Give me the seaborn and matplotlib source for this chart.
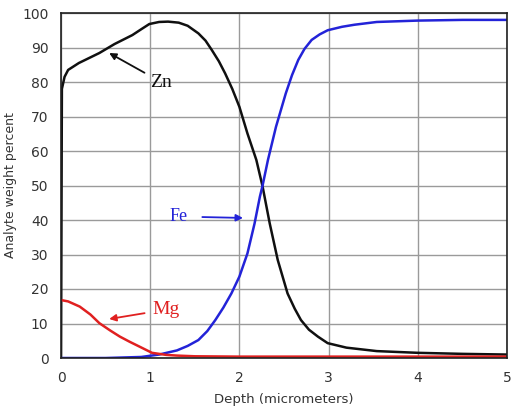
import numpy as np
import pandas as pd
import matplotlib
matplotlib.use("Agg")
import matplotlib.pyplot as plt
import seaborn as sns

# Depth profile readings (micrometers, weight percent)
zn_depth = [0, 0.01, 0.04, 0.08, 0.2, 0.43, 0.6, 0.8, 0.9, 0.99, 1.1, 1.2, 1.32, 1.42,
            1.54, 1.62, 1.69, 1.77, 1.84, 1.92, 2.0, 2.09, 2.19, 2.26, 2.34, 2.43,
            2.54, 2.62, 2.69, 2.78, 2.88, 2.99, 3.2, 3.54, 4.0, 4.5, 5.0]
zn_pct = [0, 78, 81.5, 83.5, 85.5, 88.4, 91, 93.6, 95.3, 96.8, 97.4, 97.5, 97.2, 96.3,
          94.1, 92, 89.3, 86, 82.5, 78, 72.8, 65.1, 57.4, 49.7, 39, 28.4,
          18.7, 14.3, 11, 8.2, 6.2, 4.3, 3.0, 2.0, 1.5, 1.2, 1.0]

fe_depth = [0, 0.5, 0.9, 1.1, 1.3, 1.42, 1.54, 1.64, 1.73, 1.82, 1.91, 2.0, 2.09, 2.17,
            2.23, 2.26, 2.32, 2.41, 2.52, 2.59, 2.66, 2.73, 2.81, 2.9, 2.99, 3.15,
            3.29, 3.54, 4.0, 4.5, 5.0]
fe_pct = [0, 0, 0.3, 1.0, 2.2, 3.5, 5.2, 7.8, 11, 14.6, 18.7, 23.6, 30.3, 39,
          46.8, 50, 57.4, 67, 76.7, 82, 86.4, 89.6, 92.2, 93.8, 95, 96,
          96.6, 97.4, 97.8, 98, 98]

mg_depth = [0, 0.08, 0.21, 0.33, 0.43, 0.55, 0.66, 0.77, 0.88, 1.02, 1.18, 1.3, 1.5, 2, 3, 4, 5]
mg_pct = [16.8, 16.4, 14.9, 12.6, 10.1, 8.0, 6.2, 4.7, 3.3, 1.5, 0.9, 0.7, 0.5, 0.4, 0.4, 0.4, 0.4]

df = pd.concat([
    pd.DataFrame({"depth": zn_depth, "pct": zn_pct, "element": "Zn"}),
    pd.DataFrame({"depth": fe_depth, "pct": fe_pct, "element": "Fe"}),
    pd.DataFrame({"depth": mg_depth, "pct": mg_pct, "element": "Mg"}),
])

colors = {"Zn": "#101010", "Fe": "#2323d8", "Mg": "#e02020"}

sns.set_style("white")
fig = plt.figure(figsize=(5.13, 4.12), dpi=100)
ax = fig.add_axes([61 / 513, 54 / 412, 446 / 513, 345 / 412])

sns.lineplot(data=df, x="depth", y="pct", hue="element", palette=colors,
             linewidth=1.8, legend=False, sort=False, estimator=None, ax=ax)

ax.set_xlim(0, 5)
ax.set_ylim(0, 100)
ax.set_xticks(range(0, 6))
ax.set_yticks(range(0, 101, 10))
ax.grid(True, color="#9a9a9a", linewidth=1.0)
ax.set_axisbelow(True)
for s in ax.spines.values():
    s.set_color("#202020")
    s.set_linewidth(1.2)
ax.tick_params(length=0, labelsize=10, labelcolor="#333333", pad=9)
ax.set_xlabel("Depth (micrometers)", fontsize=9.5, color="#333333", labelpad=6)
ax.set_ylabel("Analyte weight percent", fontsize=9, color="#333333", labelpad=4)

serif = "Liberation Serif"
ax.annotate("Zn", xy=(0.54, 88.4), xytext=(1.0, 80), color="#101010",
            fontsize=14, family=serif, va="center",
            arrowprops=dict(arrowstyle="-|>", color="#101010", lw=1.3,
                            shrinkA=2, shrinkB=0, mutation_scale=10))
ax.annotate("Fe", xy=(2.04, 40.6), xytext=(1.22, 41), color="#2323d8",
            fontsize=13, family=serif, va="center",
            arrowprops=dict(arrowstyle="-|>", color="#2323d8", lw=1.3,
                            shrinkA=8, shrinkB=0, mutation_scale=10))
ax.annotate("Mg", xy=(0.54, 11.3), xytext=(1.02, 14), color="#e02020",
            fontsize=14, family=serif, va="center",
            arrowprops=dict(arrowstyle="-|>", color="#e02020", lw=1.3,
                            shrinkA=3, shrinkB=0, mutation_scale=10))

fig.savefig("out.png", dpi=100)
